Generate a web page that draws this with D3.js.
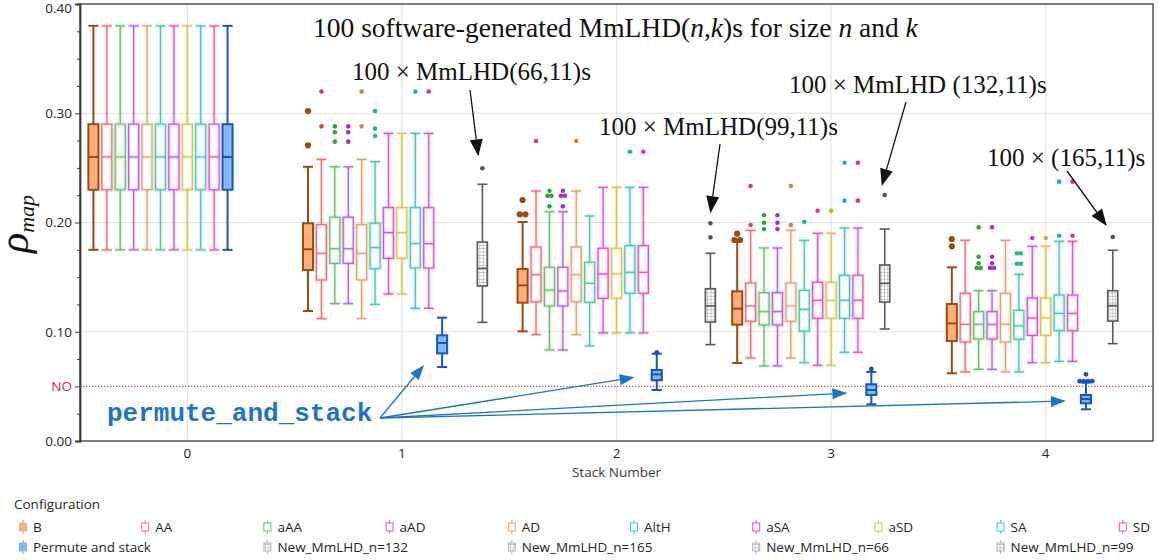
<!DOCTYPE html>
<html>
<head>
<meta charset="utf-8">
<script src="https://cdn.jsdelivr.net/npm/d3@7"></script>
<style>
  body { margin: 0; background: #fff; }
  svg { display: block; }
</style>
</head>
<body>
<svg id="chart" width="1158" height="560"></svg>
<script>
// ---------------- data ----------------
const stacks = [0, 1, 2, 3, 4];
const configs = ["B", "AA", "aAA", "aAD", "AD", "AltH", "aSA", "aSD", "SA", "SD", "Permute and stack"];
const mmlhdSeries = ["New_MmLHD_n=132", "New_MmLHD_n=165", "New_MmLHD_n=66", "New_MmLHD_n=99"];
const yTickValues = [0, 0.1, 0.2, 0.3, 0.4];
const noLevel = 0.05;

// box summaries per stack: [lower whisker, Q1, median, Q3, upper whisker]
const base0 = [0.175, 0.23, 0.26, 0.29, 0.38];
const statsB    = [base0, [0.119, 0.1565, 0.1755, 0.1993, 0.251], [0.1004, 0.1266, 0.1425, 0.1574, 0.2005], [0.0714, 0.1065, 0.1211, 0.137, 0.1828], [0.062, 0.0915, 0.1077, 0.1254, 0.159]];
const statsAA   = [base0, [0.112, 0.1474, 0.1718, 0.198, 0.2578], [0.0973, 0.1275, 0.1522, 0.1776, 0.2288], [0.076, 0.1096, 0.1236, 0.1446, 0.1928], [0.0632, 0.0906, 0.1068, 0.1352, 0.1837]];
const statsaAA  = [base0, [0.1257, 0.1626, 0.176, 0.2048, 0.251], [0.0833, 0.1236, 0.1382, 0.159, 0.2099], [0.0687, 0.1062, 0.1184, 0.1358, 0.1767], [0.0656, 0.0934, 0.1068, 0.1184, 0.1376]];
const statsaAD  = [base0, [0.1257, 0.1626, 0.176, 0.2048, 0.251], [0.0833, 0.1236, 0.1373, 0.159, 0.2099], [0.0687, 0.1062, 0.1184, 0.1358, 0.1767], [0.0656, 0.0934, 0.1068, 0.1184, 0.1376]];
const statsAD   = [base0, [0.112, 0.1474, 0.1718, 0.198, 0.2578], [0.0973, 0.1275, 0.1522, 0.1776, 0.2288], [0.076, 0.1096, 0.1236, 0.1446, 0.1928], [0.0632, 0.0906, 0.1068, 0.1352, 0.1837]];
const statsAltH = [base0, [0.1251, 0.1577, 0.177, 0.1993, 0.2557], [0.087, 0.127, 0.1443, 0.1636, 0.206], [0.0717, 0.1007, 0.1205, 0.1379, 0.1837], [0.0632, 0.0931, 0.1053, 0.1196, 0.1526]];
const statsaSA  = [base0, [0.1346, 0.1672, 0.1907, 0.2136, 0.2816], [0.0989, 0.1306, 0.1529, 0.1764, 0.2322], [0.0693, 0.1123, 0.1288, 0.1453, 0.1901], [0.0717, 0.0967, 0.1126, 0.1309, 0.1782]];
const statsaSD  = [base0, [0.1346, 0.1672, 0.1907, 0.2136, 0.2816], [0.0989, 0.1306, 0.1529, 0.1764, 0.2322], [0.0693, 0.1123, 0.1288, 0.1453, 0.1901], [0.0717, 0.0967, 0.1126, 0.1309, 0.1782]];
const statsSA   = [base0, [0.1214, 0.1584, 0.1806, 0.2136, 0.2816], [0.0989, 0.1352, 0.1544, 0.1788, 0.2322], [0.0812, 0.1123, 0.1288, 0.1517, 0.195], [0.0729, 0.101, 0.1168, 0.1336, 0.1828]];
const statsSD   = [base0, [0.1214, 0.1584, 0.1806, 0.2136, 0.2816], [0.0989, 0.1352, 0.1544, 0.1788, 0.2322], [0.0812, 0.1123, 0.1288, 0.1517, 0.195], [0.0729, 0.101, 0.1168, 0.1336, 0.1828]];
const statsPS   = [base0, [0.0677, 0.0802, 0.0897, 0.0967, 0.1129], [0.0467, 0.0556, 0.061, 0.065, 0.0799], [0.0336, 0.0421, 0.0467, 0.0519, 0.0632], [0.029, 0.0345, 0.0384, 0.0421, 0.0535]];
const statsN132 = [null, null, null, [0.1025, 0.1272, 0.1443, 0.1611, 0.194], null];
const statsN165 = [null, null, null, null, [0.0891, 0.1098, 0.1239, 0.1376, 0.1746]];
const statsN66  = [null, [0.1086, 0.1419, 0.158, 0.1821, 0.235], null, null, null];
const statsN99  = [null, null, [0.0882, 0.1089, 0.1236, 0.1394, 0.1718], null, null];

// outlying values per stack
const outB    = [[], [0.302, 0.2706], [0.2206, 0.2075, 0.2075], [0.1898, 0.184, 0.184], [0.1849, 0.1782]];
const outAA   = [[], [0.3198, 0.288], [0.2746], [0.2334, 0.1977], []];
const outaAA  = [[], [0.288, 0.2826, 0.274], [0.2291, 0.2245, 0.2245, 0.2148], [0.2066, 0.1998, 0.1941], [0.1956, 0.1687, 0.1626, 0.1584, 0.1584]];
const outaAD  = [[], [0.288, 0.2826, 0.274], [0.2291, 0.2245, 0.2245, 0.2148], [0.2066, 0.1998, 0.1941], [0.1956, 0.1687, 0.1626, 0.1584, 0.1584]];
const outAD   = [[], [0.3198, 0.288], [0.2746], [0.2334, 0.1977], []];
const outAltH = [[], [0.302, 0.2859, 0.2792], [], [0.2007], [0.1718, 0.1718, 0.1623, 0.1623]];
const outaSA  = [[], [], [], [0.2108], [0.1858]];
const outaSD  = [[], [], [], [0.2108], [0.1858]];
const outSA   = [[], [0.3198], [0.2648], [0.2547, 0.22], [0.2374, 0.1879]];
const outSD   = [[], [0.3198], [0.2648], [0.2547, 0.22], [0.2374, 0.1879]];
const outPS   = [[], [], [0.0812], [0.0659], [0.061, 0.0548, 0.0548, 0.0548, 0.0548]];
const outN132 = [[], [], [], [0.2252], []];
const outN165 = [[], [], [], [], [0.1867]];
const outN66  = [[], [0.2496], [], [], []];
const outN99  = [[], [], [0.1993, 0.1864], [], []];

// ---------------- series table ----------------
const slotOrder = configs.concat(mmlhdSeries);
const statsBySeries = {
  "B": statsB, "AA": statsAA, "aAA": statsaAA, "aAD": statsaAD, "AD": statsAD, "AltH": statsAltH,
  "aSA": statsaSA, "aSD": statsaSD, "SA": statsSA, "SD": statsSD, "Permute and stack": statsPS,
  "New_MmLHD_n=132": statsN132, "New_MmLHD_n=165": statsN165, "New_MmLHD_n=66": statsN66, "New_MmLHD_n=99": statsN99
};
const outliersBySeries = {
  "B": outB, "AA": outAA, "aAA": outaAA, "aAD": outaAD, "AD": outAD, "AltH": outAltH,
  "aSA": outaSA, "aSD": outaSD, "SA": outSA, "SD": outSD, "Permute and stack": outPS,
  "New_MmLHD_n=132": outN132, "New_MmLHD_n=165": outN165, "New_MmLHD_n=66": outN66, "New_MmLHD_n=99": outN99
};

const styleBySeries = {
  "B":    { kind: "solid", stroke: "#9A4B12", fill: "#FFAE78", dot: "#9A4B12", r: 3.1 },
  "AA":   { kind: "open", stroke: "#E7707C", dot: "#D9435A", r: 2.3 },
  "aAA":  { kind: "open", stroke: "#66C266", dot: "#2FA33F", r: 2.3 },
  "aAD":  { kind: "open", stroke: "#B860EC", dot: "#A12ED8", r: 2.3 },
  "AD":   { kind: "open", stroke: "#E4A266", dot: "#D9822C", r: 2.3 },
  "AltH": { kind: "open", stroke: "#46CCA4", dot: "#1FB98C", r: 2.3 },
  "aSA":  { kind: "open", stroke: "#DD4FE2", dot: "#D02FD6", r: 2.3 },
  "aSD":  { kind: "open", stroke: "#D8C548", dot: "#C9B41C", r: 2.3 },
  "SA":   { kind: "open", stroke: "#46C4CC", dot: "#1AB2BA", r: 2.3 },
  "SD":   { kind: "open", stroke: "#E058C2", dot: "#DE3098", r: 2.3 },
  "Permute and stack": { kind: "solid", stroke: "#1456BE", fill: "#80B9F7", dot: "#1456BE", r: 2.4 },
  "New_MmLHD_n=132": { kind: "hatch", stroke: "#5A5A5A", dot: "#555", r: 2.3 },
  "New_MmLHD_n=165": { kind: "hatch", stroke: "#5A5A5A", dot: "#555", r: 2.3 },
  "New_MmLHD_n=66":  { kind: "hatch", stroke: "#5A5A5A", dot: "#555", r: 2.3 },
  "New_MmLHD_n=99":  { kind: "hatch", stroke: "#5A5A5A", dot: "#555", r: 2.3 }
};

// ---------------- layout ----------------
const plot = { left: 80, right: 1153, top: 4, bottom: 441 };
const uiFont = "'Open Sans', 'Noto Sans', sans-serif";
const serif = "'Liberation Serif', 'Times New Roman', serif";
const textCol = "#262626";

const svg = d3.select("#chart");

const defs = svg.append("defs");
const hatch = defs.append("pattern").attr("id", "grid-hatch")
  .attr("patternUnits", "userSpaceOnUse").attr("width", 3.4).attr("height", 3.4);
hatch.append("rect").attr("width", 3.4).attr("height", 3.4).attr("fill", "#fff");
hatch.append("path").attr("d", "M0,0.3H3.4M0.3,0V3.4").attr("stroke", "#a8a8a8").attr("stroke-width", 0.7);

const x = d3.scaleBand().domain(stacks).range([plot.left, plot.right]).padding(0);
const slot = d3.scalePoint().domain(slotOrder).range([0, x.bandwidth()]).padding(1);
const boxW = slot.step() * 0.75;
const y = d3.scaleLinear().domain([0, 0.4]).range([plot.bottom, plot.top]);

// grid
const grid = svg.append("g");
grid.selectAll("line.h").data([0.1, 0.2, 0.3]).join("line")
  .attr("x1", plot.left).attr("x2", plot.right)
  .attr("y1", d => y(d)).attr("y2", d => y(d))
  .attr("stroke", "#e3e3e3").attr("stroke-width", 1.2);
grid.selectAll("line.v").data(stacks).join("line")
  .attr("x1", d => x(d) + x.bandwidth() / 2).attr("x2", d => x(d) + x.bandwidth() / 2)
  .attr("y1", plot.top).attr("y2", plot.bottom)
  .attr("stroke", "#e3e3e3").attr("stroke-width", 1.2);

// reference level
svg.append("line")
  .attr("x1", plot.left).attr("x2", plot.right)
  .attr("y1", y(noLevel)).attr("y2", y(noLevel))
  .attr("stroke", "#D45A6A").attr("stroke-width", 1.2).attr("stroke-dasharray", "1.4,1.6");

// frame
svg.append("rect")
  .attr("x", plot.left).attr("y", plot.top)
  .attr("width", plot.right - plot.left).attr("height", plot.bottom - plot.top)
  .attr("fill", "none").attr("stroke", "#3a3a3a").attr("stroke-width", 1.3);

// axes
const yAxisG = svg.append("g").attr("transform", `translate(${plot.left},0)`)
  .call(d3.axisLeft(y).tickValues(yTickValues).tickFormat(d3.format(".2f")).tickSize(5).tickPadding(3));
const minorVals = d3.range(0, 17).map(i => i * 0.025).filter(v => Math.abs(v * 10 - Math.round(v * 10)) > 1e-6 && Math.abs(v - noLevel) > 1e-6);
svg.append("g").attr("transform", `translate(${plot.left},0)`)
  .call(d3.axisLeft(y).tickValues(minorVals).tickFormat("").tickSize(3));
const noAxisG = svg.append("g").attr("transform", `translate(${plot.left},0)`)
  .call(d3.axisLeft(y).tickValues([noLevel]).tickFormat(() => "NO").tickSize(5).tickPadding(3));
const xAxisG = svg.append("g").attr("transform", `translate(0,${plot.bottom})`)
  .call(d3.axisBottom(x).tickSize(0).tickPadding(7));

svg.selectAll(".domain").attr("stroke", "#3a3a3a").attr("stroke-width", 1.3);
svg.selectAll(".tick line").attr("stroke", "#3a3a3a");
svg.selectAll(".tick text").attr("font-family", uiFont).attr("font-size", 13.5).attr("fill", textCol);
noAxisG.selectAll(".tick text").attr("fill", "#C42E4C");
xAxisG.select(".domain").remove();
// keep the topmost tick label inside the page
yAxisG.selectAll(".tick text").filter(d => d === 0.4).attr("dy", "0.62em");

svg.append("text")
  .attr("x", (plot.left + plot.right) / 2).attr("y", 477)
  .attr("text-anchor", "middle").attr("font-family", uiFont).attr("font-size", 13.5).attr("fill", "#3a3a3a")
  .text("Stack Number");

// y axis title: rho with subscript
const yTitle = svg.append("text")
  .attr("transform", "translate(28,224) rotate(-90)")
  .attr("text-anchor", "middle").attr("font-family", serif).attr("font-style", "italic").attr("fill", "#111");
yTitle.append("tspan").attr("font-size", 42).text("ρ");
yTitle.append("tspan").attr("font-size", 22).attr("dy", 6).text("map");

// ---------------- box plots ----------------
const boxes = svg.append("g");
function spreadTies(vals, spacing) {
  const counts = d3.rollup(vals, v => v.length, d => d);
  const seen = new Map();
  return vals.map(v => {
    const k = counts.get(v), j = seen.get(v) || 0;
    seen.set(v, j + 1);
    return { v, dx: (j - (k - 1) / 2) * spacing };
  });
}

slotOrder.forEach(name => {
  const st = styleBySeries[name];
  statsBySeries[name].forEach((s, i) => {
    if (!s) return;
    const [lo, q1, med, q3, hi] = s;
    const cx = x(stacks[i]) + slot(name);
    const g = boxes.append("g");
    const strokeW = st.kind === "solid" ? 2 : (st.kind === "hatch" ? 1.6 : 1.25);
    const layers = st.kind === "open" ? [{ w: strokeW + 2, o: 0.25 }, { w: strokeW, o: 1 }] : [{ w: strokeW, o: 1 }];
    // whiskers and caps
    layers.forEach(L => {
      g.append("line").attr("x1", cx).attr("x2", cx).attr("y1", y(hi)).attr("y2", y(q3))
        .attr("stroke", st.stroke).attr("stroke-width", L.w).attr("stroke-opacity", L.o);
      g.append("line").attr("x1", cx).attr("x2", cx).attr("y1", y(q1)).attr("y2", y(lo))
        .attr("stroke", st.stroke).attr("stroke-width", L.w).attr("stroke-opacity", L.o);
      [lo, hi].forEach(v => {
        g.append("line").attr("x1", cx - boxW / 2).attr("x2", cx + boxW / 2).attr("y1", y(v)).attr("y2", y(v))
          .attr("stroke", st.stroke).attr("stroke-width", L.w).attr("stroke-opacity", L.o);
      });
    });
    // box and median
    const fill = st.kind === "solid" ? st.fill : (st.kind === "hatch" ? "url(#grid-hatch)" : "#fff");
    g.append("rect").attr("x", cx - boxW / 2).attr("y", y(q3)).attr("width", boxW).attr("height", y(q1) - y(q3))
      .attr("fill", fill).attr("stroke", "none");
    layers.forEach(L => {
      g.append("rect").attr("x", cx - boxW / 2).attr("y", y(q3)).attr("width", boxW).attr("height", y(q1) - y(q3))
        .attr("fill", "none").attr("stroke", st.stroke).attr("stroke-width", L.w).attr("stroke-opacity", L.o);
      g.append("line").attr("x1", cx - boxW / 2).attr("x2", cx + boxW / 2).attr("y1", y(med)).attr("y2", y(med))
        .attr("stroke", st.stroke).attr("stroke-width", L.w).attr("stroke-opacity", L.o);
    });
    // outliers, tied values placed side by side
    const outs = spreadTies(outliersBySeries[name][i], st.r * 2 - 0.6);
    g.selectAll("circle").data(outs).join("circle")
      .attr("cx", d => cx + d.dx).attr("cy", d => y(d.v)).attr("r", st.r).attr("fill", st.dot);
  });
});

// ---------------- annotations ----------------
const ann = svg.append("g");
function arrow(x1, y1, x2, y2, color, width, len, half) {
  const a = Math.atan2(y2 - y1, x2 - x1);
  const bx = x2 - len * Math.cos(a), by = y2 - len * Math.sin(a);
  ann.append("line").attr("x1", x1).attr("y1", y1).attr("x2", bx).attr("y2", by)
    .attr("stroke", color).attr("stroke-width", width);
  const px = -Math.sin(a) * half, py = Math.cos(a) * half;
  ann.append("path").attr("d", `M${x2},${y2}L${bx + px},${by + py}L${bx - px},${by - py}Z`).attr("fill", color);
}

const title = ann.append("text").attr("x", 313).attr("y", 37)
  .attr("font-family", serif).attr("font-size", 27.5).attr("fill", "#111");
[["100 software-generated MmLHD(", false], ["n", true], [",", false], ["k", true],
 [")s for size ", false], ["n", true], [" and ", false], ["k", true]].forEach(([t, it]) => {
  title.append("tspan").attr("font-style", it ? "italic" : "normal").text(t);
});

// labelled arrows towards the reference designs
const mmlhdNotes = [
  { series: "New_MmLHD_n=66",  stack: 1, text: "100 × MmLHD(66,11)s",   tx: 352, ty: 80,  sx: 470, sy: 90,  dx: -4, dy: -12 },
  { series: "New_MmLHD_n=99",  stack: 2, text: "100 × MmLHD(99,11)s",   tx: 599, ty: 135, sx: 720, sy: 144, dx: 0,  dy: -10 },
  { series: "New_MmLHD_n=132", stack: 3, text: "100 × MmLHD (132,11)s", tx: 789, ty: 93,  sx: 906, sy: 102, dx: -3, dy: -9 },
  { series: "New_MmLHD_n=165", stack: 4, text: "100 × (165,11)s",       tx: 987, ty: 166, sx: 1067, sy: 171, dx: -6, dy: -11 }
];
mmlhdNotes.forEach(n => {
  ann.append("text").attr("x", n.tx).attr("y", n.ty)
    .attr("font-family", serif).attr("font-size", 25).attr("fill", "#111").text(n.text);
  const cx = x(n.stack) + slot(n.series);
  const top = d3.max(outliersBySeries[n.series][n.stack]);
  arrow(n.sx, n.sy, cx + n.dx, y(top) + n.dy, "#111", 1.3, 17, 6.5);
});

ann.append("text").attr("x", 107).attr("y", 421)
  .attr("font-family", "'Liberation Mono', 'Courier New', monospace").attr("font-weight", "bold")
  .attr("font-size", 26).attr("fill", "#1E74C4").text("permute_and_stack");

const psNotes = [
  { stack: 1, dx: -18, dy: 22 },
  { stack: 2, dx: -22, dy: 3 },
  { stack: 3, dx: -24, dy: 3 },
  { stack: 4, dx: -20, dy: 2 }
];
psNotes.forEach(n => {
  const cx = x(n.stack) + slot("Permute and stack");
  const med = statsPS[n.stack][2];
  arrow(380, 418, cx + n.dx, y(med) + n.dy, "#1E74C4", 1.3, 15, 5.5);
});

// ---------------- legend ----------------
const legend = svg.append("g");
legend.append("text").attr("x", 14).attr("y", 509)
  .attr("font-family", uiFont).attr("font-size", 13.5).attr("fill", textCol).text("Configuration");

const legendItems = configs.slice(0, 10).map((name, i) => ({ name, row: 0, col: i }))
  .concat([{ name: "Permute and stack", row: 1, col: 0 }])
  .concat(mmlhdSeries.map((name, i) => ({ name, row: 1, col: 2 + i * 2 })));
const colX = c => 23 + c * 122.2;
const rowY = r => 527 + r * 20;

legendItems.forEach(it => {
  const st = styleBySeries[it.name];
  const cx = colX(it.col), cy = rowY(it.row);
  const g = legend.append("g");
  const col = st.kind === "hatch" ? "#b5b5b5" : st.stroke;
  g.append("line").attr("x1", cx).attr("x2", cx).attr("y1", cy - 7).attr("y2", cy + 7)
    .attr("stroke", col).attr("stroke-width", 1).attr("stroke-opacity", st.kind === "solid" ? 0.6 : 1);
  g.append("rect").attr("x", cx - 3.5).attr("y", cy - 4).attr("width", 7).attr("height", 8)
    .attr("fill", st.kind === "solid" ? st.fill : (st.kind === "hatch" ? "url(#grid-hatch)" : "#fff"))
    .attr("stroke", st.kind === "solid" ? st.fill : col).attr("stroke-width", 1);
  g.append("text").attr("x", cx + 10).attr("y", cy + 5)
    .attr("font-family", uiFont).attr("font-size", 13.5).attr("fill", textCol).text(it.name);
});
</script>
</body>
</html>
